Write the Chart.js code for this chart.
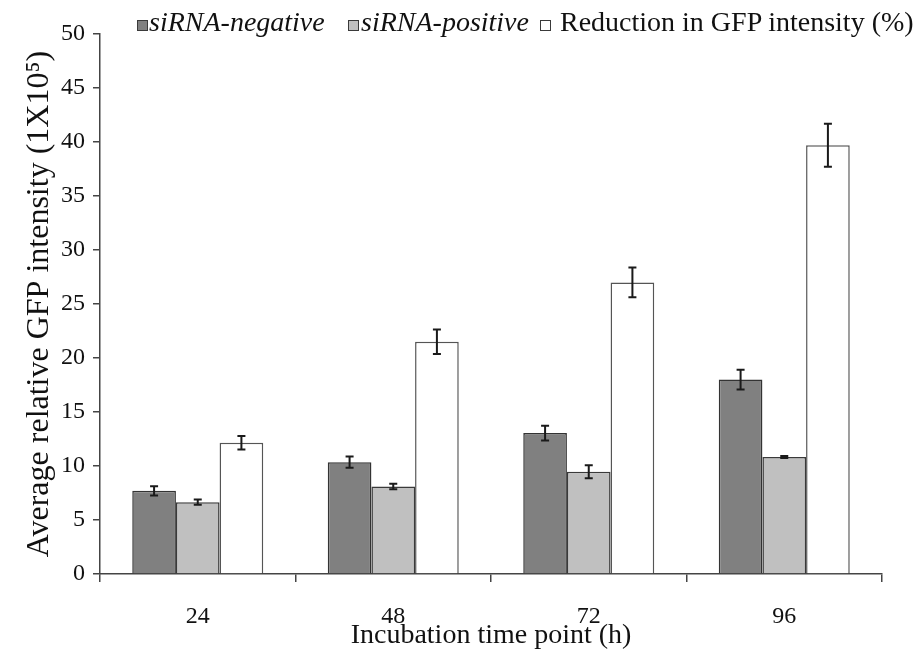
<!DOCTYPE html>
<html>
<head>
<meta charset="utf-8">
<script src="https://cdn.jsdelivr.net/npm/chart.js@4.4.1/dist/chart.umd.min.js"></script>
<style>
  html, body { margin: 0; padding: 0; background: #fff; }
  #wrap { position: relative; width: 914px; height: 656px; }
  canvas { position: absolute; left: 0; top: 0; }
  .lg { position: absolute; font-family: "Liberation Serif", "Times New Roman", serif; font-size: 28px; line-height: 1; color: #111; white-space: nowrap; }
  .sw { position: absolute; width: 9px; height: 9px; border: 1px solid #3a3a3a; }
</style>
</head>
<body>
<div id="wrap">
  <canvas id="c" width="914" height="656"></canvas>
  <div class="sw" style="left:137px;top:20px;background:#808080"></div>
  <div class="lg" style="left:149px;top:8px;font-style:italic">siRNA-negative</div>
  <div class="sw" style="left:348px;top:20px;background:#c0c0c0"></div>
  <div class="lg" style="left:361px;top:8px;font-style:italic">siRNA-positive</div>
  <div class="sw" style="left:540px;top:20px;background:#ffffff"></div>
  <div class="lg" style="left:560px;top:8px">Reduction in GFP intensity (%)</div>
</div>
<script>
const categories = ['24', '48', '72', '96'];
const seriesNames = ['siRNA-negative', 'siRNA-positive', 'Reduction in GFP intensity (%)'];
const negValues = [7.7, 10.35, 13.05, 18.0];
const negErrors = [0.42, 0.52, 0.68, 0.92];
const posValues = [6.65, 8.1, 9.46, 10.83];
const posErrors = [0.24, 0.26, 0.6, 0.1];
const redValues = [12.15, 21.5, 27.0, 39.7];
const redErrors = [0.62, 1.14, 1.37, 2.0];
const yTicks = [0, 5, 10, 15, 20, 25, 30, 35, 40, 45, 50];

const errorSets = [negErrors, posErrors, redErrors];

const errorBarPlugin = {
  id: 'errorBars',
  afterDatasetsDraw(chart) {
    const ctx = chart.ctx;
    const y = chart.scales.y;
    ctx.save();
    ctx.strokeStyle = '#1a1a1a';
    ctx.lineWidth = 2;
    chart.data.datasets.forEach((ds, di) => {
      const meta = chart.getDatasetMeta(di);
      const errs = errorSets[di];
      meta.data.forEach((bar, i) => {
        const v = ds.data[i];
        const e = errs[i];
        const x = bar.x;
        const yTop = y.getPixelForValue(v + e);
        const yBot = y.getPixelForValue(v - e);
        ctx.beginPath();
        ctx.moveTo(x, yTop); ctx.lineTo(x, yBot);
        ctx.moveTo(x - 4, yTop); ctx.lineTo(x + 4, yTop);
        ctx.moveTo(x - 4, yBot); ctx.lineTo(x + 4, yBot);
        ctx.stroke();
      });
    });
    ctx.restore();
  }
};

const serif = '"Liberation Serif", "Times New Roman", serif';

new Chart(document.getElementById('c'), {
  type: 'bar',
  data: {
    labels: categories,
    datasets: [
      { label: seriesNames[0], data: negValues, backgroundColor: '#808080', borderColor: '#333', borderWidth: 1.5 },
      { label: seriesNames[1], data: posValues, backgroundColor: '#c0c0c0', borderColor: '#3a3a3a', borderWidth: 1.5 },
      { label: seriesNames[2], data: redValues, backgroundColor: '#ffffff', borderColor: '#555', borderWidth: 1.5 }
    ]
  },
  options: {
    responsive: false,
    animation: false,
    devicePixelRatio: 1,
    layout: { padding: { left: 0, right: 32, top: 34, bottom: 0 } },
    datasets: { bar: { categoryPercentage: 0.67, barPercentage: 1.0 } },
    plugins: { legend: { display: false }, tooltip: { enabled: false } },
    scales: {
      x: {
        offset: true,
        grid: { offset: true, drawOnChartArea: false, tickLength: 8, color: '#444', lineWidth: 1.5 },
        border: { color: '#444', width: 1.5 },
        ticks: { font: { family: serif, size: 24 }, color: '#111', padding: 20 },
        title: { display: true, text: 'Incubation time point (h)', font: { family: serif, size: 28 }, color: '#111', padding: { top: 0, bottom: 4 } },
        afterFit(s) { s.height = 82; }
      },
      y: {
        min: 0, max: 50,
        afterBuildTicks(s) { s.ticks = yTicks.map(v => ({ value: v })); },
        grid: { drawOnChartArea: false, tickLength: 7, color: '#444', lineWidth: 1.5 },
        border: { color: '#444', width: 1.5 },
        ticks: { font: { family: serif, size: 24 }, color: '#111', padding: 8 },
        title: { display: true, text: 'Average relative GFP intensity (1X10⁵)', font: { family: serif, size: 32 }, color: '#111', padding: { top: 20, bottom: 0 } },
        afterFit(s) { s.width = 100; }
      }
    }
  },
  plugins: [errorBarPlugin]
});
</script>
</body>
</html>
